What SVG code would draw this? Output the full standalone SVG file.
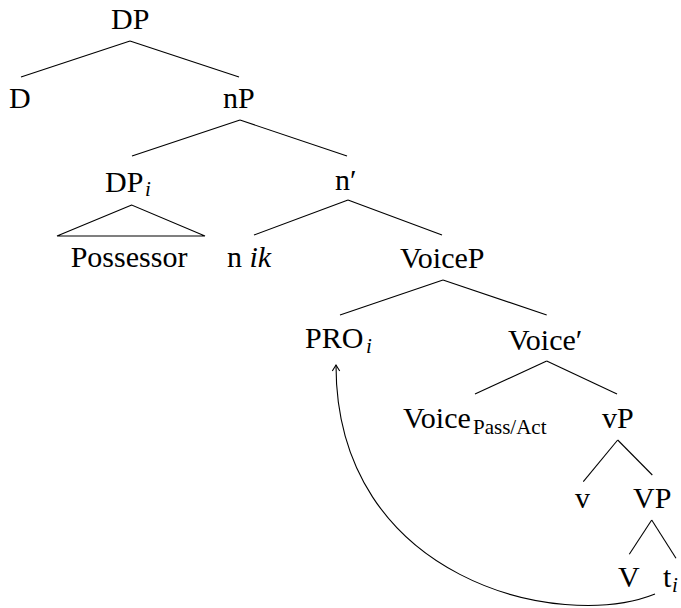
<svg xmlns="http://www.w3.org/2000/svg" width="681" height="608" viewBox="0 0 681 608">
<style>
text{font-family:"Liberation Serif","Times New Roman",serif;font-size:30px;fill:#000}
.sub{font-size:21px}
.it{font-style:italic}
.e{stroke:#000;stroke-width:1.1;fill:none}
</style>
<rect width="681" height="608" fill="#fff"/>
<g id="connectors" class="e">
<line x1="130" y1="41" x2="21" y2="77"/>
<line x1="130" y1="41" x2="239" y2="77"/>
<line x1="240" y1="120" x2="132" y2="156"/>
<line x1="240" y1="120" x2="347" y2="156"/>
<polygon points="131.7,205 57,236 205,236"/>
<line x1="348" y1="200" x2="254" y2="235"/>
<line x1="348" y1="200" x2="442" y2="235"/>
<line x1="443" y1="280" x2="340" y2="315"/>
<line x1="443" y1="280" x2="546.7" y2="315"/>
<line x1="546.7" y1="361" x2="475" y2="394"/>
<line x1="546.7" y1="361" x2="617" y2="394"/>
<line x1="617.7" y1="440" x2="583.3" y2="481.7"/>
<line x1="617.7" y1="440" x2="652.3" y2="475"/>
<line x1="651.7" y1="520" x2="629.3" y2="554.3"/>
<line x1="651.7" y1="520" x2="676" y2="558.3"/>
<path d="M655,594 C560,632 336,580 336,365"/>
<path d="M332.3,371 Q334.5,367.5 336,365 Q337.5,367.5 339.7,371"/>
</g>
<g id="DP"><text x="111" y="29">DP</text></g>
<g id="D"><text x="9" y="108">D</text></g>
<g id="nP"><text x="223" y="108">nP</text></g>
<g id="DPi"><text x="105" y="192">DP</text><text class="sub it" x="145" y="196">i</text></g>
<g id="nbar"><text x="335" y="190">n′</text></g>
<g id="Possessor"><text x="70.7" y="267">Possessor</text></g>
<g id="nik"><text x="227" y="267">n <tspan class="it">ik</tspan></text></g>
<g id="VoiceP"><text x="400" y="268">VoiceP</text></g>
<g id="PROi"><text x="305" y="348">PRO</text><text class="sub it" x="366" y="353">i</text></g>
<g id="Voicebar"><text x="508" y="350">Voice′</text></g>
<g id="VoicePassAct"><text x="403" y="428">Voice</text><text class="sub" x="473" y="434">Pass/Act</text></g>
<g id="vP"><text x="602" y="428">vP</text></g>
<g id="v"><text x="575" y="508">v</text></g>
<g id="VP"><text x="633" y="508">VP</text></g>
<g id="V"><text x="618" y="587">V</text></g>
<g id="ti"><text x="663" y="587">t</text><text class="sub it" x="672" y="592">i</text></g>
</svg>
